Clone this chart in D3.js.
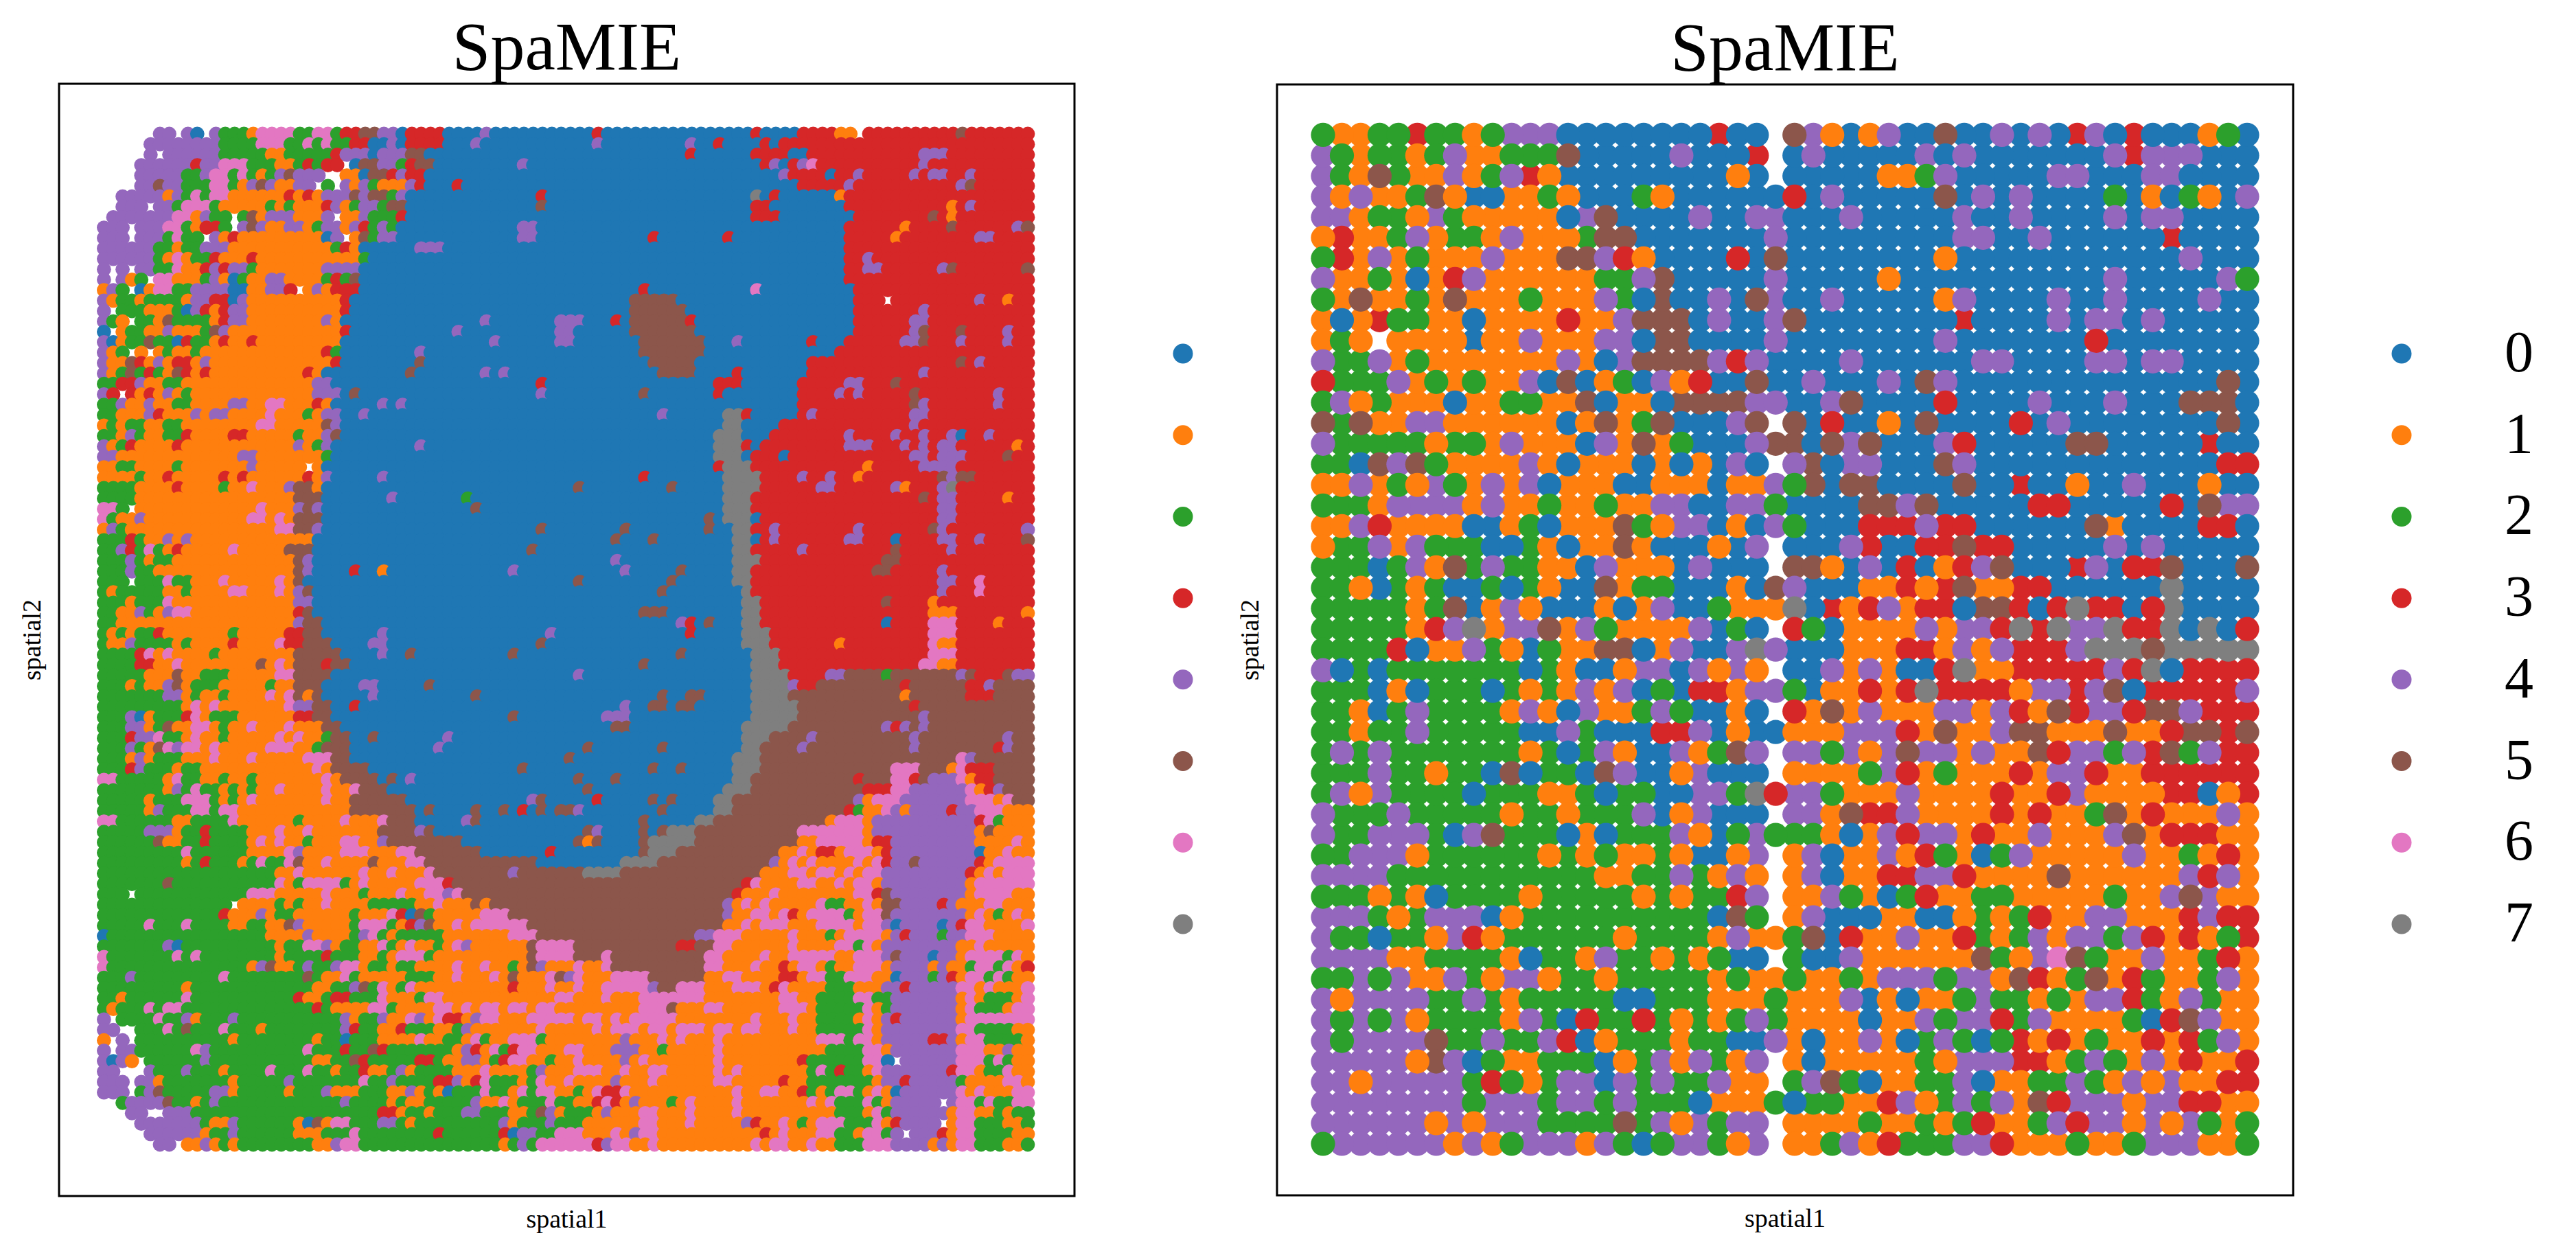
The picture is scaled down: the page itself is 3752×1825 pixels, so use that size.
<!DOCTYPE html>
<html>
<head>
<meta charset="utf-8">
<title>SpaMIE spatial clusters</title>
<script src="https://cdn.jsdelivr.net/npm/d3@7"></script>
<style>
html, body { margin: 0; background: #fff; }
svg { display: block; }
text { font-family: "Liberation Serif", "Times New Roman", serif; fill: #000; }
</style>
</head>
<body>
<svg id="chart" width="3752" height="1825"></svg>
<script>
const clusterLabels = ["0", "1", "2", "3", "4", "5", "6", "7"];
const clusterColors = ["#1f77b4", "#ff7f0e", "#2ca02c", "#d62728", "#9467bd", "#8c564b", "#e377c2", "#7f7f7f"];
const panelTitle = "SpaMIE";
const axisNames = ["spatial1", "spatial2"];

// Fine grid, run-length coded per row: first character is the cluster, the rest its run length.
const fineRows = [
".6 42 . 4 0 . 4 23 1 64 22 62 2 32 52 42 0 34 04 4 011 3 016 3 04 34 12 . 310 5 37",
".5 48 24 63 22 6 2 6 22 32 02 4 0 34 03 4 012 4 09 4 02 3 04 3 0 327",
".5 4 . 46 25 12 25 3 43 0 43 52 028 3 06 34 02 312 43 39",
".4 46 3 42 63 23 12 2 3 2 32 . 0 52 42 2 3 52 09 4 025 3 4 0 3 4 6 311 4 311",
".4 45 22 4 62 2 6 2 1 2 4 5 43 .2 12 0 52 3 4 32 038 4 34 0 32 4 35 4 3 42 32 4 36",
".4 42 5 42 23 62 2 1 4 5 4 12 42 . 2 . 4 1 4 2 13 4 3 03 3 036 35 4 311 4 5 36",
".2 45 1 4 2 6 2 62 16 3 1 3 1 43 5 4 52 2 4 014 3 022 7 0 3 06 1 320",
".2 43 . 42 2 63 2 15 2 1 2 13 3 4 1 2 42 2 52 014 5 022 32 08 311 1 3 4 36",
". 47 62 1 4 22 . 2 5 1 43 13 4 . 12 4 23 3 037 33 08 38 5 3 1 38",
"43 . 43 62 2 1 32 2 . 4 5 4 12 42 1 2 42 1 4 3 2 4 2 013 42 033 36 1 34 5 36 4 5",
"43 . 43 2 6 22 . 4 1 3 19 0 4 . 1 5 2 42 013 42 012 3 07 3 012 35 1 38 42 34",
"46 22 1 22 43 111 2 3 1 06 43 043 320",
"46 2 1 6 1 22 3 13 3 111 2 051 32 4 317",
"4 . 4 . 42 22 6 12 3 4 3 42 2 17 44 052 32 42 36 4 5 37 5",
"4 . 4 1 2 . 62 13 2 4 1 0 2 12 42 14 2 3 2 5 052 320",
"1 4 2 . 0 1 62 22 44 02 12 42 3 . 1 4 1 33 030 3 011 6 010 319",
"4 1 22 1 24 1 42 32 0 4 110 3 030 55 019 33 . 39 4 32 1 32",
"4 . 23 13 2 0 4 3 1 3 42 110 3 030 56 018 37 4 311",
"4 2 1 . 22 1 5 24 1 3 42 18 4 1 015 4 07 43 03 3 0 56 3 017 36 42 311",
"0 . 1 22 12 4 13 2 5 4 112 3 011 4 010 42 06 57 017 36 4 5 33 5 34 4 32",
"4 0 1 22 5 22 0 3 22 1 3 12 3 19 016 4 06 42 07 57 03 4 07 3 03 36 42 5 33 4 34 4 32",
"4 1 2 . 1 . 1 2 12 2 113 3 2 08 4 023 57 014 321",
"4 12 5 3 1 4 1 32 1 4 113 3 08 5 024 55 012 316 5 3 4 35",
"4 1 2 5 2 3 2 1 5 3 1 3 110 3 1 09 5 07 4 0 4 016 54 04 3 07 312 4 311",
"22 32 4 12 22 114 42 022 3 018 33 06 35 42 33 5 314",
"4 3 . 3 1 3 1 4 1 2 113 43 0 5 019 4 010 5 07 3 08 34 4 3 4 35 5 38 4 33",
"22 4 12 4 12 22 14 42 12 62 13 3 1 05 4 0 4 042 312 5 4 37 4 33",
"22 13 4 3 13 4 1 42 14 6 13 2 1 42 02 4 031 4 06 72 3 05 3 4 310 42 311",
"1 2 1 22 12 22 18 62 15 5 4 041 72 04 314 4 312",
"22 1 4 2 12 22 3 14 32 15 2 12 4 5 040 73 03 38 4 34 4 32 4 32 4 0 32 4 34",
"4 1 2 3 14 3 112 4 1 2 4 09 4 031 73 3 0 39 43 33 4 3 4 3 42 36 1 3",
"42 113 42 17 2 041 73 0 33 0 313 42 3 43 34 5 32",
"12 22 14 2 17 4 15 . 1 042 3 73 312 1 35 44 38",
"14 2 12 3 15 3 1 3 16 3 1 4 05 4 027 3 08 74 34 4 32 4 32 1 38 5 4 52 36",
"24 14 3 14 2 12 6 13 4 52 1 027 5 09 5 05 74 36 42 36 4 1 33 4 7 38",
"24 117 53 07 4 07 2 027 73 318 5 3 42 35 1 32",
"62 2 . 113 6 13 4 5 4 016 5 026 73 320 42 38",
"6 2 12 4 111 62 1 6 1 53 041 5 0 73 0 319 42 38",
"1 4 2 116 62 52 4 023 5 08 5 08 5 02 72 32 4 38 4 37 5 4 38 4",
"23 3 2 12 4 1 4 113 032 5 03 5 08 72 0 3 4 37 42 33 0 34 42 32 4 34 5",
"22 4 3 2 6 2 1 3 15 6 15 53 023 5 021 72 35 4 39 5 35 4 38",
"23 4 2 1 22 113 5 4 032 4 012 73 313 52 314",
"23 4 22 115 5 4 04 3 02 1 013 4 011 4 05 5 05 72 313 52 35 4 39",
"23 . 23 6 22 13 6 15 6 1 5 029 5 09 5 06 72 320 42 32 6 35",
"2 1 25 12 2 14 62 13 6 1 4 5 037 5 08 7 320 4 33 6 35",
"23 1 23 6 113 42 046 72 313 5 34 1 310",
"22 12 4 2 1 4 62 111 3 5 035 53 08 72 318 13 37 1",
"22 119 4 52 038 4 3 0 5 03 72 313 0 34 63 34 1 33",
"2 1 2 1 22 3 17 2 15 32 52 06 4 017 4 014 3 05 73 317 63 38",
"2 12 4 24 1 2 14 3 14 6 32 53 04 42 016 5 021 73 37 1 39 6 12 38",
"24 3 6 1 6 14 2 18 55 04 4 02 5 010 5 017 5 07 73 316 63 38",
"24 32 12 6 18 5 1 6 1 53 3 52 031 5 011 73 315 62 12 38",
"25 13 5 12 23 15 62 54 026 4 018 74 34 42 54 2 57 4 5 33 5 42",
"23 1 2 12 4 5 1 23 15 2 12 53 04 42 05 5 034 74 4 32 59 3 56 32 4 54",
"27 42 1 2 12 2 14 6 1 6 5 1 5 05 4 010 5 019 5 02 52 05 74 512 1 56 33 54",
"29 1 6 1 6 17 6 42 52 02 3 028 4 02 52 0 52 06 75 512 3 512",
"23 4 0 1 23 3 6 1 23 16 32 52 019 5 09 43 013 75 513 4 511",
"23 42 1 2 5 12 62 1 2 12 6 13 6 13 52 029 52 012 75 510 4 3 4 5 4 511",
"23 3 42 6 22 1 6 12 2 15 6 1 6 12 2 52 02 5 07 4 031 73 54 4 510 4 59 4 52",
"23 4 2 1 5 6 4 62 1 6 15 63 12 2 53 09 4 015 5 07 5 08 72 54 4 511 4 58 3 4 52",
"23 1 4 1 23 13 6 13 6 15 63 52 023 5 017 73 521 6 4 56",
"23 3 4 23 1 22 112 6 1 54 016 5 013 5 02 5 05 73 514 63 53 1 6 33 54",
"62 25 1 6 22 12 2 12 2 17 6 1 54 0 5 0 4 017 5 03 5 012 72 511 3 53 62 3 5 43 6 1 32 54",
"27 1 4 2 6 22 1 2 1 2 12 6 14 6 12 6 53 021 5 014 73 512 33 62 46 6 1 3 4 53",
"25 1 23 63 2 1 2 1 6 17 6 12 56 013 4 5 05 3 05 5 0 5 04 72 513 4 1 63 47 63 1 6 52",
"25 1 4 23 62 2 62 112 57 0 5 04 5 02 5 0 3 0 5 0 52 4 08 5 05 72 512 3 2 12 6 4 1 44 3 42 63 13",
"62 26 12 24 6 16 2 14 6 13 6 53 05 4 5 017 5 05 72 512 1 63 1 411 3 6 2 13",
"25 43 1 22 3 24 13 6 12 6 17 54 4 5 016 5 4 04 5 0 5 73 511 67 1 411 1 5 14",
"26 5 12 22 3 24 1 6 1 6 12 2 13 62 12 4 58 012 5 1 5 04 5 75 511 12 65 1 32 49 14 6 1",
"29 6 26 14 6 4 14 63 13 62 57 07 3 09 5 73 511 12 6 1 32 1 63 1 3 49 0 12 6 12",
"29 1 2 3 23 1 2 6 22 6 5 12 6 14 5 13 62 512 09 74 512 4 1 6 1 6 14 6 1 6 3 42 5 46 3 1 64",
"219 12 6 16 6 12 6 13 6 58 4 57 74 515 13 62 1 62 1 6 1 62 49 3 1 6 1 63",
"27 5 211 6 1 2 64 2 1 6 15 63 3 531 3 6 14 62 12 6 1 62 1 49 1 66",
"23 . 212 63 15 6 13 2 13 6 12 62 4 6 529 3 13 6 18 62 3 5 48 1 64 12",
"214 . 14 2 1 2 12 6 14 25 12 6 13 5 1 525 4 1 6 1 6 15 6 22 12 6 1 52 44 3 4 13 62 13",
"213 3 13 4 1 22 16 2 13 6 3 0 5 2 15 63 523 4 12 62 1 6 3 1 64 2 1 62 5 48 1 6 1 2 1 6 1",
"25 6 23 6 24 12 22 12 5 4 15 2 63 2 1 3 4 5 12 6 1 66 521 12 6 1 63 13 64 1 62 4 0 44 0 4 3 62 14 6",
"0 217 14 4 14 2 4 6 2 1 25 17 63 517 42 63 15 6 13 2 1 64 1 4 3 43 2 42 63 14",
"27 4 0 210 1 22 62 4 1 22 12 6 2 1 6 12 2 1 6 4 16 5 64 511 32 52 62 16 6 14 62 2 6 1 48 12 6 15",
"6 27 6 2 6 28 1 24 3 23 12 2 1 63 2 110 5 64 53 6 510 62 14 6 12 65 12 63 4 5 43 0 42 1 64 2 6 1",
"6 215 1 4 5 12 2 4 22 4 62 1 22 1 22 14 6 12 6 12 2 1 5 4 13 6 12 6 510 62 13 6 12 3 1 62 1 2 12 63 1 44 1 4 12 2 62 2 6 1 3",
"23 4 29 6 28 5 2 12 6 2 15 23 12 6 13 6 1 5 13 6 5 4 6 13 64 56 12 62 14 32 1 62 22 63 12 0 43 2 4 3 1 62 2 6 2 12",
"29 1 213 12 22 4 5 2 6 1 2 6 110 3 13 6 12 6 12 65 4 52 63 13 63 1 3 6 14 23 13 42 3 45 62 1 6 13 6",
"22 1 26 6 211 3 12 2 32 23 6 13 2 62 112 62 13 6 13 67 18 62 12 24 62 22 47 1 6 1 23 1 6",
"2 1 23 6 2 62 214 3 2 14 62 2 14 62 1 6 1 62 1 62 1 62 19 63 5 13 62 16 63 1 25 6 1 2 47 1 6 23 1 62",
"4 . 24 6 22 4 1 23 4 211 4 1 22 4 12 6 4 1 6 32 1 4 62 13 65 1 62 1 6 1 65 18 6 13 6 12 24 1 6 1 4 3 46 1 67",
"42 .2 23 6 2 5 23 6 23 1 28 4 3 22 12 3 23 12 2 4 17 6 15 6 1 63 1 62 1 63 1 62 1 62 13 6 12 25 6 1 48 62 24 12",
"1 . 4 . 210 1 28 1 22 0 23 14 6 12 22 1 6 2 12 63 2 18 4 13 6 1 6 13 6 110 63 2 62 1 45 32 4 1 62 24 1",
"4 . 42 26 6 4 210 6 23 3 22 5 3 27 1 4 3 1 6 2 3 62 13 62 13 43 12 2 15 6 111 24 62 1 47 63 12 4 12",
"4 0 4 1 . 26 4 211 12 22 5 3 25 32 2 12 42 1 2 3 62 12 2 12 6 14 4 1 6 17 6 18 3 26 62 0 . 46 63 2 6 2 12",
"42 .3 4 23 4 23 1 24 6 23 6 22 1 22 3 12 2 4 1 24 13 6 14 2 4 13 63 12 6 12 62 15 6 1 6 17 2 6 2 3 22 1 6 47 3 62 1 22 6 12",
"43 . 42 1 27 1 25 4 27 6 22 4 24 32 4 1 3 6 23 1 2 6 12 6 14 4 13 6 16 62 15 3 12 27 1 42 3 45 2 14 62 1",
"43 . 2 4 5 25 42 1 25 1 23 4 13 23 12 4 1 2 1 0 23 6 22 1 6 2 62 12 2 1 6 32 6 111 6 12 62 12 3 2 1 2 62 2 1 6 1 0 46 6 1 6 13 62",
".2 2 44 5 22 1 2 4 213 4 24 1 2 12 25 4 12 6 1 23 6 22 12 3 6 3 1 4 13 2 1 6 14 6 17 6 1 6 23 6 2 1 45 . 4 62 2 6 22 62",
".3 42 .2 43 220 32 1 22 1 23 42 23 12 2 5 4 1 23 1 4 13 62 13 6 14 6 110 23 1 6 2 46 1 62 12 2 1 22",
".4 47 2 12 4 26 1 0 5 1 62 23 42 2 1 29 4 1 23 4 23 16 62 13 6 15 4 3 12 6 1 2 1 63 23 6 1 3 44 . 1 62 23 12 2",
".5 46 1 22 4 26 13 23 6 28 3 26 3 0 42 22 63 13 6 1 4 62 111 3 1 6 13 62 22 1 62 2 4 . 43 3 1 62 24 12",
".6 42 . 12 4 1 2 1 28 12 4 62 215 1 2 4 2 66 3 4 62 12 6 110 6 1 62 12 6 12 23 63 44 1 4 1 62 23 12 2"
];

// Coarse grid, one character per spot. Letters a-h are clusters 0-7 that sit beneath their neighbours.
const coarseRows = [
"21122d2212444 00000000 d00 .5410 14 00 5 00 4040 d40 3000 120",
"42122124112225 00000 4 000 d . 0 4 00000 4 0 4 0000000 4 d 444 000",
"42152114124d1 000000000 1 0 . 00000 1124 00000 44 000 44 0000",
"41411251a01121 000 21 000000 3 0 4 00000 5 0 4 0 4 0000 2 0 1 0 2 1 0 4",
"441221e211111 0e5 0000 4 00 44 000 4 00000 4 00 4 0000 4 0 44 0000",
"13112412214111c55 0000000 4 000000000 44 00 4 000000 d 0000",
"231412111411155431 0000 3 0 5 00000000 1 000000000000 4 000",
"411210134 111111 2245 00000 4 00000 1 00000000000 4 00000 42",
"2151121511121114205004054004 00000 14 0000 4 00 4 0000 4 00",
"101d2211011113114555040045 00000000 d 0000 4 0 44 0 4 00000",
"121.1111a11411144055 0000 4 00000000 4 0000000 3 00000000",
"422412 1111111 4 1 0 4 5555 434 0000 4 000000 44 0000 44 0 44 0000",
"322241212114050120413005004 000 4 0 54 00000000000000 5 0",
"2412111011221150110 5555 44 00 4 5 0000 3 0000 4 000 4 000 555 0",
"5251144 111111 015125 000 45.5 0 3 00 1 0 5 0000 3 0 4 00000000 5 0",
"422222 1221 4 111 0 4 1 5 1 2 000 4 55 0 5 4 5 000 43 00000 55 00000 d 00",
"220545211114101110101040.45044 000 54 0000000000000 33",
"1141214214140 111 00 111 0 11 4 2 5 0 55 0000 5 00 d 00 1 00 4 000 1 00",
"222 1 4444 1 4 11 2 11 2 11 44 00 44 2 0000 55 4 5 00000 33 00000 3 0 5 44",
"1143 1111 00 1 2 0 111 5 2 1 44 0 1 0 4 2 000 333 4 33 000000 5 b 0000 33 0",
"122414 222 00 2 1 0 11 5 1 000 1 0 4 . 000 4 3 00 33 5 33 00000 4 0 4 00000",
"222 0 2 4 1 5 2 4 22 11 0 4 111 0 4 000 . 55 1 0 4 0 3 0 1 3 4 5 000 d 4 0 33 5 000 5",
"221021200202 1 00 5 1 22 000 1 0 5 4 000 11 3 1 3 5 11 33 000000 7 0000",
"22222 1 2 5 0 1 4 1 000 1 0 1 4 00 2 111 7 0 d 1 3 4 1 33 0 55 3 0 3 7 33 0 3 7 0000",
"22222 1 3 4 7 1 44 5 1 4 2 1111 4 0 2 0 . 3 2 0 1111 4 1 44 3 7 3 7 44 7 33 7 0 7 0 3",
"2222 3 0 11 4 2 1 0 2 11 55 0 1 4 00 4 7 4 000 111 33 1 4 1 4 333 4 777 5 77777",
"4020 2222222 0 2 1 00 1 44 0 4 1 4 1 . 00 4 1 4 1 00 3 7 11 33333 4 3 7 0 3333",
"222 0 1 0 222 0 2 1 2 1 4 1 4 0 2 0 33 1 44 2 0 11 3 1 3 7 3333 1 44 3 4 5 0 33333 4",
"221024 2222 1 4 1 0 4 11 2 4 2 00 1 0 . 3 1 5 1 4 111 44 1 4 3 1 5 3 44 3 55 4 333",
"221224 22222 00 4 2 000 33 4 0 1 0 0 111 444 3 1 5 11 4 55 111 5 11 3 55 3 5",
"2424 2222222 1 2 0 2 4 1 00 4 1 2 5 4 . 44 2 4 1 4 5 44 1 4 11 5 3 44 2 4 3 5 2 4 33",
"222 4 22 1 22 0 5 0 22 0 5 4 00 1 4 000 . 1111 2 4 3 1 2 111 3 1 44 3 11 333333",
"2414 2222 0 222 11 2 0 22 00 44 2 7 3 44 2 111 4 1111 3 11 3 4 1111 33 0 1 3",
"4 222 4 22222 1 22 1 222 4 0 1 4 000 . 44 1 5 33 4 1111 3 1 3 11 2 5 1 3 111 4 1",
"422 444 2 0 4 5 222 0 1 0 222 4 1 0 2 4 222 1 0 1 4 3 44 1 3 11 4 111 4 5 1 333 11",
"22 444 1 222222 1 2 1 2 11 2 1 00 1 4 . 1 4 0 11 4 1 3 2 1 0 2 4 11111 4 11 2 1 3 1",
"4444 22222222222 11 22 4 2 1 4 1 . 1 4 0 11 33 44 3 1111 5 111111 4 3 4 1",
"222 1 2 1 0 2222 1 22222 1 2 1 22 3 4 . 11 4 2 1 0 2 3 11 22 11111 2 11 4 5 4 11",
"444 2 1 2 444 0 1 2222222222 0 5 2 . 1 4 000 11 00 1 2 1 2 3 11 44 111 3 4 33",
"422022 1 4 3 1 222222 1 2222 1 4 11 2 5 0 3 11 4 11 3 2 1 2 4 1 44 2 4 3 1 3 1 2 3",
"4444 11 2222 1 0 22 1 4 22 1 2 1 2 00 . 2 00 4 111111 5 2 1 4 6 5 2 11 4 11 2 3 1",
"22 4 2 4 11 4 2 1 44 1 22 1 22222 1 2 11 2 11 2 1 444 2 44 1 5 3 1 2 5 1 3 2 11 2 4 1",
"41 4444 22 4 2 1 22222 00 222 111 2 111 4 0 1 0 11 2 4 22 1 2 1 44 3 2 1 4 2 11",
"42424 1 2222 1 4 2 0 3 22 3 2 1 2 1 2 4 2 1111 0 11 4 2 44 3 2 4 1111 2 0 3 5 4 11",
"42 4444 5 22 4 22 4 3 0 1 222 1 22 00 4 1 0 11 4 1 0 2 4 2 0 2 3 1 3 1 2 11 3 1 3 2 4 1",
"44444 1 5 4 0 2 11 222 0 1 2 4 1 4 2 1 4 . 1 0 11111 2 1 444 33 1 2 4 2 1 4 1 3 11 3",
"441 44444 2 3 2 1 2 44 0 4 2 4 22 4 11 . 2 4 5 2 0 11 22 4 0 11 22 4 2 1 4 1 4 11 33",
"44444444 2 444 2 44 2 4 222 0 111 2 0 22 11 3 4 1 2 4 2 4 1 5 3 444 1 44 33 11",
"444444 1 4 1 444 2222 5 2 4 1 4 2 44 . 1111 2 11 2 1 2 3 11 2 4 3 44 1 4 1 4 2 1 2",
"2 444444 1 4 1 2 444 1 4 2 0 2 44 2 1 4 . 11 2 4 1 3 222 44 3 111 2 11 2 444 11 2"
];

const svg = d3.select("#chart");

const panels = [
  { frame: [86, 122, 1565, 1742], xRange: [151.4, 1497], yRange: [195, 1667], radius: 10.4, legendX: 1723, labelled: false },
  { frame: [1860, 123, 3340, 1741], xRange: [1927, 3273], yRange: [196.4, 1666], radius: 17.6, legendX: 3498, labelled: true }
];

const legendY = d3.scalePoint().domain(clusterLabels).range([515, 1346]);
const clusterColor = d3.scaleOrdinal().domain(clusterLabels).range(clusterColors);

function decodeRuns(row) {
  let out = "";
  for (const token of row.trim().split(/\s+/)) {
    out += token[0].repeat(token.length > 1 ? +token.slice(1) : 1);
  }
  return out;
}

function spotsFrom(rows) {
  const spots = [];
  rows.forEach((row, r) => {
    [...row].forEach((ch, c) => {
      if (ch === ".") return;
      const lower = ch >= "a" && ch <= "h";
      const cluster = lower ? ch.charCodeAt(0) - 97 : +ch;
      spots.push({ r, c, cluster: String(cluster), under: lower });
    });
  });
  return spots;
}

const fineSpots = spotsFrom(fineRows.map(decodeRuns));
const coarseSpots = spotsFrom(coarseRows.map(s => s.replace(/\s+/g, "")));

// Coarse spots: contiguous blocks go down first, lone spots stay visible on top.
const coarseIndex = new Map(coarseSpots.map(s => [s.r + "," + s.c, s]));
coarseSpots.forEach(s => {
  s.same = [[0, 1], [0, -1], [1, 0], [-1, 0]].filter(([dr, dc]) => {
    const n = coarseIndex.get((s.r + dr) + "," + (s.c + dc));
    return n && n.cluster === s.cluster;
  }).length;
});
coarseSpots.sort((a, b) => (b.under - a.under) || (b.same - a.same) || (a.r - b.r) || (a.c - b.c));

function drawPanel(cfg, spots, nRows, nCols) {
  const [x0, y0, x1, y1] = cfg.frame;
  const x = d3.scaleLinear().domain([0, nCols - 1]).range(cfg.xRange);
  const y = d3.scaleLinear().domain([0, nRows - 1]).range(cfg.yRange);
  const g = svg.append("g");

  g.append("g").selectAll("circle").data(spots).join("circle")
    .attr("cx", d => x(d.c))
    .attr("cy", d => y(d.r))
    .attr("r", cfg.radius)
    .attr("fill", d => clusterColor(d.cluster));

  g.append("rect")
    .attr("x", x0).attr("y", y0)
    .attr("width", x1 - x0).attr("height", y1 - y0)
    .attr("fill", "none").attr("stroke", "#000").attr("stroke-width", 3);

  g.append("text")
    .attr("x", (x0 + x1) / 2).attr("y", y0 - 21)
    .attr("text-anchor", "middle").attr("font-size", 100)
    .text(panelTitle);

  g.append("text")
    .attr("x", (x0 + x1) / 2).attr("y", y1 + 46)
    .attr("text-anchor", "middle").attr("font-size", 38)
    .text(axisNames[0]);

  g.append("text")
    .attr("transform", `translate(${x0 - 27},${(y0 + y1) / 2}) rotate(-90)`)
    .attr("text-anchor", "middle").attr("font-size", 38)
    .text(axisNames[1]);

  const legend = g.append("g");
  legend.selectAll("circle").data(clusterLabels).join("circle")
    .attr("cx", cfg.legendX)
    .attr("cy", d => legendY(d))
    .attr("r", 14.5)
    .attr("fill", d => clusterColor(d));

  if (cfg.labelled) {
    legend.selectAll("text").data(clusterLabels).join("text")
      .attr("x", cfg.legendX + 150)
      .attr("y", d => legendY(d) + 26)
      .attr("font-size", 84)
      .text(d => d);
  }
}

drawPanel(panels[0], fineSpots, fineRows.length, 100);
drawPanel(panels[1], coarseSpots, coarseRows.length, 50);
</script>
</body>
</html>
